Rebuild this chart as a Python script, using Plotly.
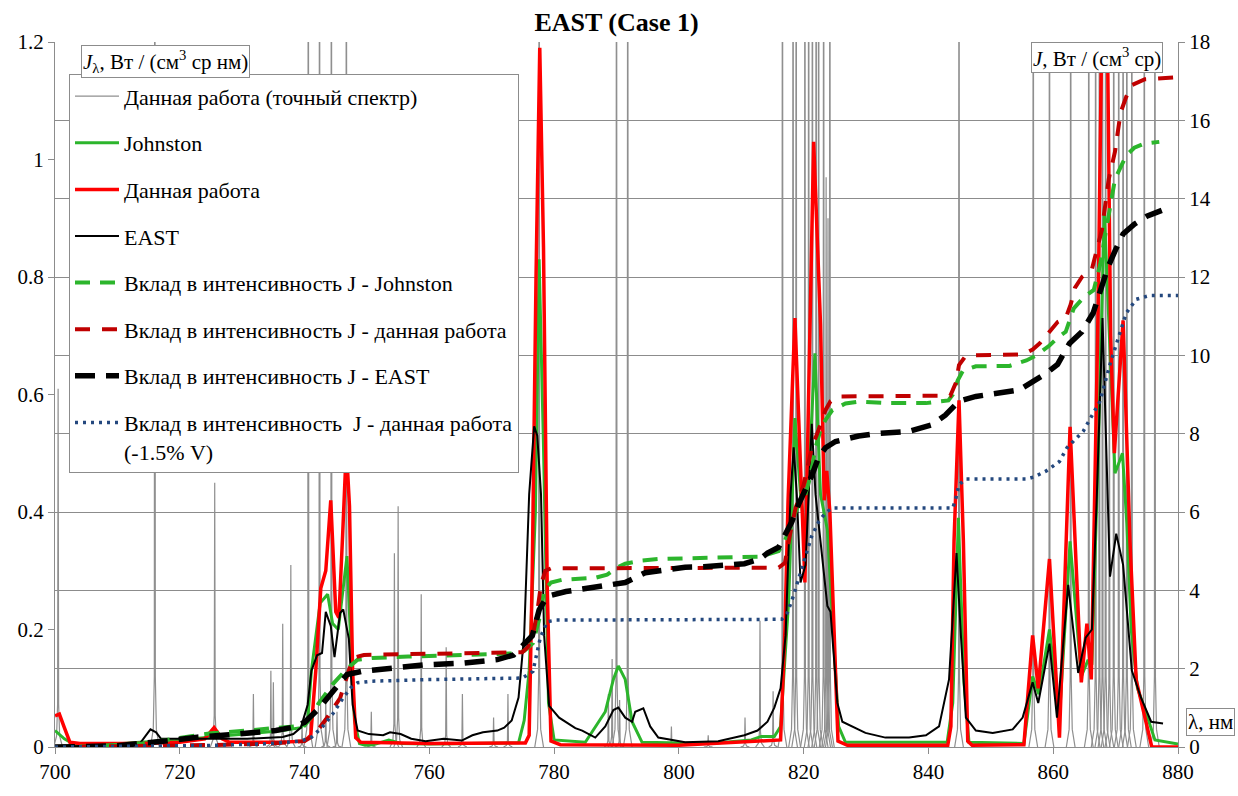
import plotly.graph_objects as go

# ---------------- spectral line list (exact spectrum), J_lambda ----------------
line_wl = [700.5, 716.0, 725.6, 731.8, 734.6, 735.0, 736.5, 737.8, 739.6,
           740.6, 742.4, 743.4, 744.3, 745.2, 746.7, 750.7, 754.4, 755.0,
           758.7, 762.7, 765.3, 770.3, 772.6, 777.6, 788.7, 789.3, 790.0,
           790.5, 791.8, 798.8, 804.7, 810.6, 813.0, 815.1, 816.6, 818.3,
           818.8, 820.2, 820.8, 821.4, 822.0, 822.4, 823.2, 823.6, 823.9,
           824.2, 844.9, 856.8, 859.4, 862.8, 865.7, 866.8, 867.4, 867.9,
           868.4, 869.0, 869.7, 870.5, 871.2, 871.8, 872.6, 874.6, 876.3]
line_peak = [0.61, 2.0, 0.45, 0.09, 0.13, 0.11, 0.21, 0.31, 0.04,
             2.0, 2.0, 0.08, 2.0, 0.06, 2.0, 0.06, 0.33, 0.41,
             0.26, 0.17, 0.09, 0.05, 0.09, 2.0, 0.09, 0.15, 2.0,
             0.08, 2.0, 0.035, 0.02, 0.05, 0.215, 0.095, 2.0, 2.0,
             2.0, 2.0, 2.0, 2.0, 2.0, 2.0, 2.0, 0.97, 0.9,
             2.0, 2.0, 2.0, 2.0, 2.0, 2.0, 2.0, 2.0, 2.0,
             2.0, 0.9, 2.0, 2.0, 2.0, 2.0, 2.0, 2.0, 2.0]

# ---------------- Johnston, J_lambda ----------------
wl_john = [700, 701.5, 703.3, 707, 713.6, 719.3, 725, 730.8, 736.5, 739.4,
           740.5, 741.1, 742.0, 742.5, 743.7, 744.5, 745.4, 746.2, 746.8,
           747.4, 748.0, 748.8, 749.7, 751, 753.5, 755.5, 760, 774.3, 775.2,
           776.0, 777.0, 777.6, 778.3, 779.1, 780.0, 785, 788.2, 789.5, 790.3,
           791.4, 792.5, 794.1, 805, 811.6, 813.2, 815.3, 816.3, 817.6, 818.6,
           819.5, 820.3, 821.8, 822.7, 823.8, 824.8, 825.6, 826.7, 843.0,
           843.9, 844.8, 845.7, 846.5, 855.3, 856.7, 857.7, 859.4, 861.0,
           862.7, 864.5, 865.5, 866.2, 867.2, 868.2, 869.0, 869.9, 870.4,
           871.1, 871.8, 872.5, 873.5, 874.6, 876.3, 880]
j_john = [0.028, 0.014, 0.003, 0.003, 0.008, 0.011, 0.017, 0.022, 0.028, 0.033,
          0.045, 0.13, 0.21, 0.245, 0.26, 0.21, 0.2, 0.27, 0.325,
          0.18, 0.045, 0.006, 0.003, 0.004, 0.012, 0.006, 0.005, 0.007, 0.045,
          0.13, 0.4, 0.83, 0.51, 0.075, 0.012, 0.008, 0.06, 0.115, 0.138,
          0.115, 0.043, 0.008, 0.006, 0.012, 0.018, 0.018, 0.035, 0.25, 0.56,
          0.43, 0.35, 0.67, 0.43, 0.37, 0.19, 0.035, 0.008, 0.008,
          0.075, 0.39, 0.11, 0.008, 0.006, 0.12, 0.09, 0.2, 0.05,
          0.35, 0.12, 0.146, 0.14, 0.5, 0.91, 0.7, 0.466, 0.48,
          0.5, 0.38, 0.2, 0.1, 0.067, 0.012, 0.005]

# ---------------- present work, J_lambda ----------------
wl_this = [700, 700.7, 701.5, 702.4, 704, 714, 720, 724, 725.5, 726.8, 728,
           736, 740, 741, 741.8, 742.6, 743.4, 744.2, 745.0, 745.5, 746.1,
           746.7, 747.2, 747.7, 748.2, 749, 760, 775.4, 776.0, 776.5, 777.1,
           777.7, 778.3, 778.9, 779.5, 781, 800, 816.3, 817.0, 817.5, 818.6,
           819.4, 820.2, 821.6, 822.7, 823.3, 823.7, 824.2, 824.8, 825.5, 827,
           843.1, 843.6, 844.1, 844.9, 845.6, 846.3, 847, 855.3, 856.7, 857.6,
           859.4, 861.0, 862.7, 864.5, 865.4, 866.1, 867.2, 868.0, 868.6, 869.2,
           869.8, 871.2, 872.3, 873.3, 874.5, 875.8, 880]
j_this = [0.053, 0.056, 0.033, 0.008, 0.006, 0.006, 0.008, 0.014, 0.033, 0.014, 0.008,
          0.008, 0.01, 0.02, 0.13, 0.27, 0.3, 0.42, 0.23, 0.22, 0.36,
          0.51, 0.41, 0.13, 0.016, 0.008, 0.006, 0.007, 0.02, 0.3, 0.8,
          1.19, 0.85, 0.27, 0.01, 0.004, 0.003, 0.012, 0.2, 0.42, 0.73,
          0.5, 0.28, 1.03, 0.72, 0.42, 0.47, 0.4, 0.2, 0.01, 0.003,
          0.003, 0.035, 0.35, 0.59, 0.35, 0.01, 0.003, 0.004, 0.19, 0.1,
          0.32, 0.016, 0.545, 0.11, 0.21, 0.115, 0.75, 1.4, 1.3, 0.7,
          0.5, 0.726, 0.35, 0.114, 0.06, 0.0, 0.0]

# ---------------- EAST, J_lambda ----------------
wl_east = [700, 705, 713.6, 715.3, 716.2, 717, 720.5, 725, 730.8, 736.5, 738.2,
           739.4, 740.5, 741.1, 742.0, 742.8, 743.4, 744.2, 744.8, 745.7,
           746.2, 747.1, 747.7, 748.5, 750.3, 752.6, 753.7, 755.4, 757.1,
           759.4, 762.3, 765.2, 766.9, 768.6, 770.9, 772.0, 773.2, 774.3,
           775.2, 776.0, 776.8, 777.3, 777.9, 778.4, 779.2, 780.8, 783.4,
           784.5, 786.6, 788.2, 789.5, 790.3, 791.4, 792.5, 793.0, 794.3,
           795.4, 796.7, 801, 806.3, 810.5, 812.6, 814.2, 815.3, 816.3, 817.1,
           817.9, 818.4, 818.9, 819.5, 820.3, 821.3, 821.9, 822.7, 823.8,
           824.3, 825.4, 826.2, 827.8, 829.9, 833.1, 836.9, 839.6, 841.7,
           843.3, 844.5, 845.2, 846.0, 847.6, 850.3, 853.5, 855.1, 856.7,
           857.6, 859.4, 860.6, 862.4, 864.0, 865.2, 866.2, 867.0, 867.9,
           869.1, 870.1, 871.2, 872.6, 874.1, 875.7, 877.6]
j_east = [0.0, 0.002, 0.006, 0.03, 0.025, 0.014, 0.014, 0.014, 0.014, 0.017, 0.022,
          0.033, 0.072, 0.13, 0.156, 0.16, 0.23, 0.206, 0.153, 0.228,
          0.234, 0.184, 0.072, 0.028, 0.022, 0.02, 0.025, 0.022, 0.014,
          0.01, 0.014, 0.011, 0.02, 0.025, 0.028, 0.033, 0.045, 0.084,
          0.19, 0.43, 0.546, 0.53, 0.43, 0.19, 0.07, 0.05, 0.032,
          0.028, 0.016, 0.035, 0.063, 0.067, 0.05, 0.043, 0.06, 0.066,
          0.035, 0.016, 0.008, 0.01, 0.02, 0.028, 0.043, 0.067, 0.1, 0.19,
          0.43, 0.51, 0.43, 0.28, 0.31, 0.55, 0.43, 0.35, 0.24,
          0.23, 0.075, 0.043, 0.035, 0.024, 0.016, 0.016, 0.02, 0.035,
          0.115, 0.33, 0.19, 0.05, 0.028, 0.024, 0.03, 0.05, 0.11,
          0.075, 0.176, 0.05, 0.276, 0.126, 0.186, 0.2, 0.43, 0.73,
          0.29, 0.363, 0.31, 0.13, 0.083, 0.043, 0.04]

# ---------------- cumulative intensity J, Вт/(см3 ср) ----------------
wl_cum_john = [700, 706, 713.6, 719.3, 722.2, 725, 730.8, 736.5, 740, 741, 742.2,
               744.5, 746.8, 748.5, 750.8, 756.6, 765.2, 773.8, 775.2, 776.6,
               777.6, 778.4, 779.5, 781.3, 786.6, 788.5, 790.3, 791.4, 794,
               796.7, 802, 808, 813, 816, 817, 818.1, 819.2, 820.3, 821.1,
               821.9, 822.7, 823.5, 824.6, 826.7, 828.8, 834, 839.6, 843.2,
               843.9, 844.7, 845.5, 847.6, 853, 855.7, 857.3, 859.4, 860.7,
               862.0, 863.3, 865.0, 866.5, 867.5, 868.3, 869.9, 871.7, 873.0,
               874.5, 877.0]
cum_john = [0, 0.02, 0.08, 0.21, 0.29, 0.35, 0.42, 0.49, 0.55, 0.75, 1.1,
            1.6, 2.0, 2.23, 2.27, 2.31, 2.35, 2.39, 2.45, 2.65,
            3.26, 4.0, 4.2, 4.27, 4.32, 4.4, 4.6, 4.68, 4.76,
            4.8, 4.82, 4.83, 4.86, 5.0, 5.27, 5.75, 6.2, 6.46, 6.93,
            7.64, 8.1, 8.35, 8.6, 8.77, 8.82, 8.78, 8.78, 8.85,
            9.0, 9.36, 9.6, 9.72, 9.73, 9.87, 10.0, 10.25, 10.45,
            10.6, 11.2, 11.5, 11.67, 12.3, 13.0, 14.5, 15.1, 15.3,
            15.4, 15.45]

wl_cum_this = [700, 713.6, 725, 733.6, 740, 741, 742.2, 743.4, 744.5, 745.7,
               746.6, 747.4, 748.3, 749.5, 760, 774.9, 775.8, 776.6, 777.3,
               777.9, 778.6, 779.5, 816.0, 817.0, 817.9, 818.7, 820.0, 821.3,
               822.4, 823.5, 824.3, 825.5, 843.5, 844.4, 844.9, 845.8, 847,
               855.1, 856.7, 857.8, 859.4, 860.7, 862.0, 862.8, 863.5, 864.6,
               866.2, 867.8, 868.9, 869.9, 870.8, 871.7, 872.6, 874.7, 880]
cum_this = [0, 0.02, 0.05, 0.08, 0.15, 0.25, 0.45, 0.7, 0.95, 1.25,
            1.7, 2.1, 2.3, 2.35, 2.38, 2.42, 2.55, 2.85, 3.45,
            4.15, 4.5, 4.56, 4.58, 4.7, 5.5, 6.1, 6.7, 7.64,
            8.1, 8.6, 8.83, 8.95, 8.97, 9.3, 9.75, 9.95, 10.0,
            10.02, 10.15, 10.3, 10.6, 10.85, 10.95, 11.3, 11.73, 12.0,
            12.2, 13.2, 14.5, 15.2, 16.2, 16.6, 16.9, 17.05, 17.1]

wl_cum_east = [700, 710, 719.3, 722.8, 727.9, 735.4, 738, 740, 742.2, 744.5,
               746.8, 749.1, 753.7, 759.4, 765.2, 770.9, 773.5, 774.9, 776.5,
               777.6, 778.9, 781.9, 785.1, 788.2, 791.4, 794.6, 797.8, 801,
               804, 807.3, 810.5, 813, 814.2, 816, 817, 818.1, 819.2, 820.3,
               821.3, 822.4, 823.5, 825.1, 828.8, 831.5, 836.9, 840.6, 842.7,
               844.9, 847.6, 851, 854.6, 858.9, 860.7, 862.6, 864.6, 866.4,
               867.5, 868.8, 870, 871.2, 873, 875, 877.4]
cum_east = [0, 0.03, 0.18, 0.25, 0.31, 0.42, 0.5, 0.63, 0.97, 1.43,
            1.85, 1.93, 2.02, 2.1, 2.14, 2.23, 2.35, 2.6, 2.84,
            3.5, 3.85, 3.97, 4.05, 4.15, 4.2, 4.45, 4.52, 4.59,
            4.6, 4.65, 4.68, 4.8, 4.95, 5.1, 5.4, 5.75, 6.2, 6.58,
            6.93, 7.4, 7.64, 7.8, 7.94, 8.0, 8.06, 8.23, 8.47,
            8.83, 8.95, 9.03, 9.12, 9.54, 9.77, 10.3, 10.6, 11.08,
            11.6, 12.26, 12.7, 13.1, 13.35, 13.55, 13.7]

wl_cum_v = [700, 713.6, 725, 733.6, 739.4, 741.1, 742.8, 744.5, 746.2, 747.4,
            748.5, 750.8, 759.4, 770.9, 774.9, 776.6, 777.3, 777.8, 778.9,
            780.3, 816.5, 817.3, 818.1, 819.2, 820.3, 821.3, 822.4, 823.5,
            824.6, 843.9, 844.4, 844.9, 846, 855.7, 857, 858.9, 861, 862.2,
            864.8, 867.5, 869.1, 870.7, 871.7, 873.3, 875.5, 880]
cum_v = [0, 0.01, 0.04, 0.08, 0.15, 0.25, 0.5, 0.84, 1.26, 1.51,
         1.64, 1.68, 1.72, 1.75, 1.76, 1.93, 2.4, 2.8, 3.2,
         3.24, 3.26, 3.4, 3.73, 4.32, 4.92, 5.39, 5.75, 5.98,
         6.1, 6.1, 6.35, 6.7, 6.84, 6.84, 6.9, 7.05, 7.29, 7.64,
         8.06, 8.83, 9.77, 10.6, 11.08, 11.43, 11.53, 11.53]

# axis ticks
x_ticks = list(range(700, 881, 20))
y_ticks = [0, 0.2, 0.4, 0.6, 0.8, 1.0, 1.2]
y2_ticks = list(range(0, 19, 2))

SERIF = "'Liberation Serif', 'Times New Roman', Tinos, 'DejaVu Serif', serif"

# shape used to draw a single spectral line: offsets (nm) and fractions of the peak
prof_dx = [-0.7, -0.25, -0.08, 0.0, 0.08, 0.25, 0.7]
prof_fr = [0.0, 0.03, 0.12, 1.0, 0.12, 0.03, 0.0]

spec_x, spec_y = [], []
for c, p in zip(line_wl, line_peak):
    base = min(p, 1.0)
    for dx, fr in zip(prof_dx, prof_fr):
        spec_x.append(c + dx)
        spec_y.append(p if fr == 1.0 else base * fr)
    spec_x.append(None)
    spec_y.append(None)

fig = go.Figure()

fig.add_trace(go.Scatter(x=spec_x, y=spec_y, mode="lines",
                         name="Данная работа (точный спектр)", legendgroup="g1",
                         line=dict(color="#8f8f8f", width=1.2)))
fig.add_trace(go.Scatter(x=wl_john, y=j_john, mode="lines", name="Johnston",
                         legendgroup="g2", line=dict(color="#2cb52c", width=3)))
fig.add_trace(go.Scatter(x=wl_this, y=j_this, mode="lines", name="Данная работа",
                         legendgroup="g3", line=dict(color="#ff0000", width=3.5)))
fig.add_trace(go.Scatter(x=wl_east, y=j_east, mode="lines", name="EAST",
                         legendgroup="g4", line=dict(color="#000000", width=2)))

fig.add_trace(go.Scatter(x=wl_cum_john, y=cum_john, mode="lines", yaxis="y2",
                         name="Вклад в интенсивность J - Johnston", legendgroup="g5",
                         line=dict(color="#2cb52c", width=4, dash="15px,10px")))
fig.add_trace(go.Scatter(x=wl_cum_this, y=cum_this, mode="lines", yaxis="y2",
                         name="Вклад в интенсивность J - данная работа", legendgroup="g6",
                         line=dict(color="#c00000", width=4, dash="15px,12px")))
fig.add_trace(go.Scatter(x=wl_cum_east, y=cum_east, mode="lines", yaxis="y2",
                         name="Вклад в интенсивность J - EAST", legendgroup="g7",
                         line=dict(color="#000000", width=5.5, dash="20px,11px")))
fig.add_trace(go.Scatter(x=wl_cum_v, y=cum_v, mode="lines", yaxis="y2",
                         name="Вклад в интенсивность  J - данная работа<br>(-1.5% V)",
                         legendgroup="g8",
                         line=dict(color="#24487e", width=3.5, dash="3px,5px")))

axis_common = dict(showline=True, linecolor="#8c8c8c", linewidth=1,
                   ticks="outside", ticklen=6, tickcolor="#8c8c8c",
                   tickfont=dict(family=SERIF, size=21, color="black"),
                   zeroline=False)

fig.update_layout(
    width=1238, height=796,
    margin=dict(l=55, r=60, t=42, b=36),
    paper_bgcolor="white", plot_bgcolor="white",
    font=dict(family=SERIF, color="black"),
    title=dict(text="<b>EAST (Case 1)</b>", x=0.5, xref="paper",
               y=1 - 22 / 796, yref="container", yanchor="middle",
               font=dict(family=SERIF, size=26, color="black")),
    xaxis=dict(range=[700, 880], tickvals=x_ticks, showgrid=False, **axis_common),
    yaxis=dict(range=[0, 1.2], tickvals=y_ticks, showgrid=False, **axis_common),
    yaxis2=dict(range=[0, 18], tickvals=y2_ticks, overlaying="y", side="right",
                showgrid=True, gridcolor="#8c8c8c", gridwidth=1, **axis_common),
    showlegend=True,
    legend=dict(x=(69 - 55) / 1123, y=(760 - 75) / 718, xanchor="left", yanchor="top",
                bgcolor="white", bordercolor="#8c8c8c", borderwidth=1,
                font=dict(family=SERIF, size=22, color="black"),
                traceorder="grouped", tracegroupgap=15, valign="top",
                itemwidth=44),
    annotations=[
        dict(text="<i>J</i><sub>λ</sub>, Вт / (см<sup>3</sup> ср нм)",
             xref="paper", yref="paper", x=(165 - 55) / 1123, y=(760 - 62) / 718,
             xanchor="center", yanchor="middle", showarrow=False,
             font=dict(family=SERIF, size=21, color="black"),
             bgcolor="white", bordercolor="#8c8c8c", borderwidth=1, borderpad=1),
        dict(text="<i>J</i>, Вт / (см<sup>3</sup> ср)",
             xref="paper", yref="paper", x=(1097 - 55) / 1123, y=(760 - 58) / 718,
             xanchor="center", yanchor="middle", showarrow=False,
             font=dict(family=SERIF, size=21, color="black"),
             bgcolor="white", bordercolor="#8c8c8c", borderwidth=1, borderpad=1),
        dict(text="λ, нм",
             xref="paper", yref="paper", x=(1210 - 55) / 1123, y=(760 - 735) / 718,
             xanchor="center", yanchor="middle", showarrow=False,
             font=dict(family=SERIF, size=21, color="black"),
             bgcolor="white", bordercolor="#8c8c8c", borderwidth=1, borderpad=1),
    ],
)

fig.write_html("out.html")
